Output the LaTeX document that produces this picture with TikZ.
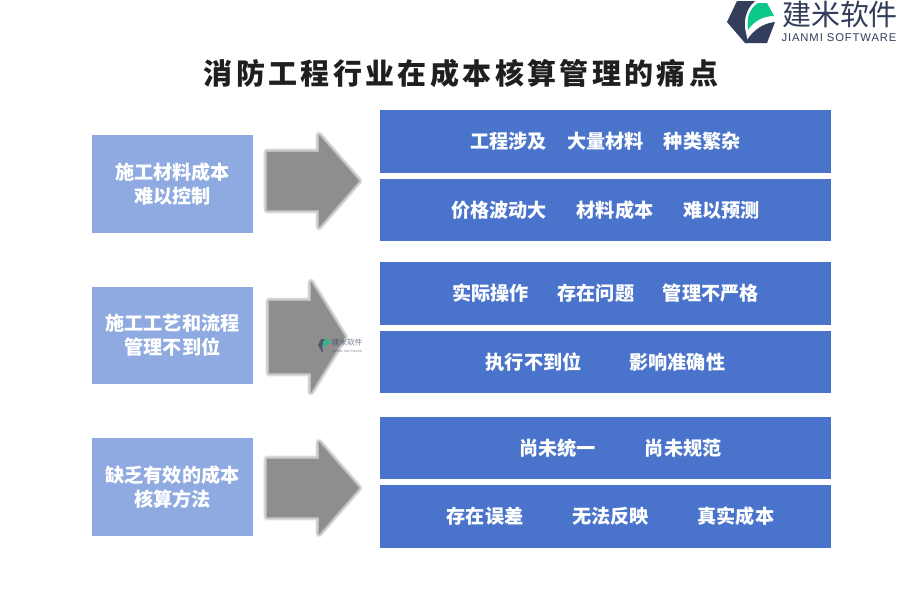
\documentclass[tikz,border=0pt]{standalone}
\usepackage{fontspec}
\setmainfont{Noto Sans CJK SC}
\newfontfamily\titlefont[LetterSpace=11.6]{Noto Sans CJK SC}
\newfontfamily\latinfont[LetterSpace=8]{Liberation Sans}

\definecolor{darkblue}{HTML}{4A74CC}
\definecolor{lightblue}{HTML}{8FAAE0}
\definecolor{arrowgray}{HTML}{8E8E8E}
\definecolor{logonavy}{HTML}{333D5C}
\definecolor{logogreen}{HTML}{0CC78A}

% the blurred arrow : x start, x head, x tip, y middle, shaft half, head half
\newcommand*\grayarrow[6]{
  \foreach \w in {4,3.2,2.4,1.6,0.8}
    { \draw[arrow blur, line width=\w pt] (#1,#4-#5) -- (#2,#4-#5) -- (#2,#4-#6) -- (#3,#4)
        -- (#2,#4+#6) -- (#2,#4+#5) -- (#1,#4+#5) -- cycle; }
  \fill[arrowgray] (#1,#4-#5) -- (#2,#4-#5) -- (#2,#4-#6) -- (#3,#4)
        -- (#2,#4+#6) -- (#2,#4+#5) -- (#1,#4+#5) -- cycle;
}

\begin{document}
\begin{tikzpicture}[x=0.02cm,y=-0.02cm,
                   every node/.style = {inner sep = 0pt, align = center},
                   left box/.style   = {shape          = rectangle,
                                        fill           = lightblue,
                                        minimum width  = 3.22cm,
                                        minimum height = 1.95cm,
                                        text           = white,
                                        font           = \fontsize{10.9}{13.6}\selectfont\bfseries},
                   right box/.style  = {shape          = rectangle,
                                        fill           = darkblue,
                                        minimum width  = 9.02cm,
                                        minimum height = 1.25cm,
                                        text           = white,
                                        font           = \fontsize{10.9}{13.6}\selectfont\bfseries},
                   arrow blur/.style = {arrowgray,
                                        opacity    = 0.18,
                                        line join  = round}]
\useasboundingbox (0,0) rectangle (900,600);

% the title
\node[text=black!88](title) at (461,73) {\titlefont\fontsize{16.5}{18}\selectfont\bfseries 消防工程行业在成本核算管理的痛点};

% the left boxes
\node[left box](a1) at (172.5,184) {施工材料成本\\难以控制};
\node[left box](a2) at (172.5,335.5) {施工工艺和流程\\管理不到位};
\node[left box](a3) at (172.5,487) {缺乏有效的成本\\核算方法};

% the arrows
\grayarrow{267}{319}{359}{181}{29}{46}
\grayarrow{269}{311}{345}{337}{36}{55}
\grayarrow{267}{319}{359}{488}{29}{46}

% the right boxes
\node[right box](c1) at (605.5,141.5) {工程涉及\hspace{1.05em}大量材料\hspace{1.05em}种类繁杂};
\node[right box](c2) at (605.5,210) {价格波动大\hspace{1.55em}材料成本\hspace{1.55em}难以预测};
\node[right box](c3) at (605.5,293.5) {实际操作\hspace{1.5em}存在问题\hspace{1.5em}管理不严格};
\node[right box](c4) at (605.5,362) {执行不到位\hspace{2.5em}影响准确性};
\node[right box](c5) at (605.5,448) {\hspace*{17pt}尚未统一\hspace{2.55em}尚未规范};
\node[right box](c6) at (605.5,516.5) {\hspace*{5.7pt}存在误差\hspace{2.55em}无法反映\hspace{2.55em}真实成本};

% the logo
\fill[logonavy] (727,22) -- (737,1) -- (755,1) .. controls (747,8) and (744,18) .. (745,28) -- (748,43) -- (745,43) -- cycle;
\fill[logonavy] (745,43) -- (767,43) -- (775,22) .. controls (765,23) and (754,28) .. (745,43) -- cycle;
\fill[logogreen] (748,30) .. controls (746,18) and (750,8) .. (758,3) -- (767,3) -- (774,16) .. controls (763,16) and (754,21) .. (748,30) -- cycle;
\node[text=logonavy, font=\fontsize{16.5}{18}\selectfont](logo) at (840,14) {建米软件};
\node[text=logonavy, font=\fontsize{6.4}{8}\selectfont](logotext) at (839,38) {\latinfont JIANMI SOFTWARE};

% the watermark
\begin{scope}[opacity=0.65]
  \fill[logonavy] (318,345) -- (321,339) -- (325,339) .. controls (322,342) and (322,347) .. (323,352) -- (322,352) -- cycle;
  \fill[logogreen] (323,348) .. controls (322,344) and (324,340) .. (326,339) -- (329,339) -- (331,343) .. controls (328,344) and (325,345) .. (323,348) -- cycle;
  \node[text=logonavy, font=\fontsize{4.4}{5}\selectfont](mark) at (347,343) {建米软件};
  \node[text=logonavy, font=\fontsize{1.7}{2}\selectfont](marktext) at (347,351) {\latinfont JIANMI SOFTWARE};
\end{scope}
\end{tikzpicture}
\end{document}
